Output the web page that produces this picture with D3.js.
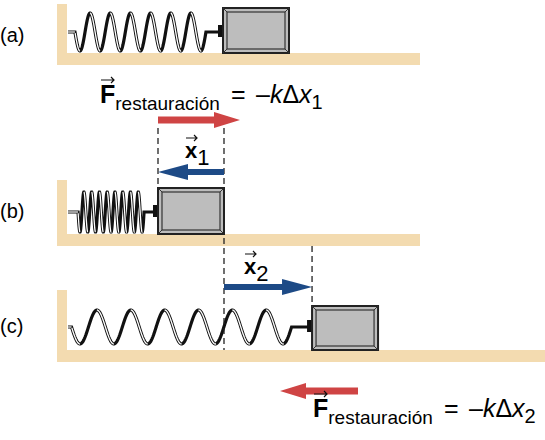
<!DOCTYPE html>
<html><head><meta charset="utf-8">
<script src="https://cdn.jsdelivr.net/npm/d3@7"></script>
<style>body{margin:0;background:#fff}text{font-family:"Liberation Sans",Arial,sans-serif}</style>
</head><body><svg id="c" width="545" height="440"></svg>
<script>
// Data (displacement of block's left edge, arbitrary units relative to equilibrium)
const panelLabels = ["(a)", "(b)", "(c)"];
const displacements = [0, -1, 1.37];
const coilCounts = [6, 8, 6];
const eqLabels = ["1", "2"];

const svg = d3.select("#c");
const X = d3.scaleLinear().domain([0, 1]).range([224, 289]); // 1 unit = 65px
const tan = "#f3dbb0", red = "#cf4444", blue = "#1d4a86";

const rows = [
  {top: 4, floorY: 53, floorEnd: 420, blockTop: 8, cy: 32, amp: 19, labelY: 42},
  {top: 180, floorY: 234, floorEnd: 420, blockTop: 188, cy: 212, amp: 20, labelY: 218},
  {top: 290, floorY: 350, floorEnd: 545, blockTop: 306, cy: 327, amp: 17, labelY: 333}
];
const blockW = 66;

rows.forEach((r, i) => {
  const g = svg.append("g");
  g.append("rect").attr("x", 57).attr("y", r.top).attr("width", 10).attr("height", r.floorY + 12 - r.top).attr("fill", tan);
  g.append("rect").attr("x", 57).attr("y", r.floorY).attr("width", r.floorEnd - 57).attr("height", 12).attr("fill", tan);
  g.append("text").attr("x", 0).attr("y", r.labelY).attr("font-size", 20).text(panelLabels[i]);
  const bx = X(displacements[i]) - 1;
  const x0 = 68, xStart = 80, xEnd = bx - 12;
  const N = coilCounts[i];
  const per = (xEnd - xStart) / (N + 0.5);
  const pts = [[x0, r.cy], [xStart - per * 0.25, r.cy]];
  for (let t = -0.25; t <= N + 0.25 + 1e-6; t += 0.02) {
    pts.push([xStart + t * per, r.cy + r.amp * Math.cos(2 * Math.PI * t)]);
  }
  pts.push([bx - 4, r.cy]);
  const line = d3.line();
  g.append("path").attr("d", line(pts)).attr("fill", "none").attr("stroke", "#111").attr("stroke-width", 3.2);
  for (let k = 0; k <= N; k++) {
    const seg = [];
    for (let t = k - 0.5; t <= k + 0.02; t += 0.02) {
      if (t < -0.25) continue;
      seg.push([xStart + t * per, r.cy + r.amp * Math.cos(2 * Math.PI * t)]);
    }
    if (seg.length > 1) g.append("path").attr("d", line(seg)).attr("fill", "none").attr("stroke", "#fff").attr("stroke-width", 1.3);
  }
  g.append("path").attr("d", line([[x0, r.cy], [xStart - per * 0.25, r.cy]])).attr("stroke", "#fff").attr("stroke-width", 1.2);
  g.append("rect").attr("x", bx - 5).attr("y", r.cy - 7).attr("width", 5).attr("height", 12).attr("fill", "#111");
  const bh = r.floorY - r.blockTop;
  g.append("rect").attr("x", bx).attr("y", r.blockTop).attr("width", blockW).attr("height", bh).attr("fill", "#bdbdbd").attr("stroke", "#222").attr("stroke-width", 2);
  g.append("rect").attr("x", bx + 4).attr("y", r.blockTop + 4).attr("width", blockW - 8).attr("height", bh - 8).attr("fill", "none").attr("stroke", "#333").attr("stroke-width", 1.2);
  g.append("path").attr("d", `M${bx},${r.blockTop}L${bx+4},${r.blockTop+4}M${bx+blockW},${r.blockTop}L${bx+blockW-4},${r.blockTop+4}M${bx},${r.blockTop+bh}L${bx+4},${r.blockTop+bh-4}M${bx+blockW},${r.blockTop+bh}L${bx+blockW-4},${r.blockTop+bh-4}`).attr("stroke", "#333");
});

const dash = (x, y1, y2) => svg.append("line").attr("x1", x).attr("x2", x).attr("y1", y1).attr("y2", y2).attr("stroke", "#222").attr("stroke-width", 1.3).attr("stroke-dasharray", "6,4");
dash(X(displacements[1]) - 1, 128, 233);
dash(X(0), 128, 350);
dash(X(displacements[2]) - 1, 246, 306);

function arrow(xa, xb, y, color, th, hw, hl) {
  const d = xb > xa ? 1 : -1;
  const xh = xb - d * hl;
  svg.append("path").attr("fill", color).attr("d",
    `M${xa},${y - th/2}L${xh},${y - th/2}L${xh},${y - hw/2}L${xb},${y}L${xh},${y + hw/2}L${xh},${y + th/2}L${xa},${y + th/2}Z`);
}
arrow(X(displacements[1]) - 1, X(displacements[1]) - 1 + 82, 120, red, 7, 16, 26);
arrow(X(0), X(displacements[1]) - 1, 172, blue, 6, 16, 30);
arrow(X(0), X(displacements[2]) - 1, 287, blue, 6, 16, 30);
arrow(358, 280, 391, red, 7, 16, 26);

function vecX(x, y, sub) {
  const t = svg.append("text").attr("x", x).attr("y", y).attr("font-size", 22).attr("font-weight", "bold");
  t.append("tspan").text("x");
  t.append("tspan").attr("font-weight", "normal").attr("dy", 7).text(sub);
  svg.append("path").attr("d", `M${x+1},${y-20}L${x+12},${y-20}M${x+9},${y-23}L${x+12},${y-20}L${x+9},${y-17}`).attr("stroke", "#111").attr("stroke-width", 1.2).attr("fill", "none");
}
vecX(185, 158, eqLabels[0]);
vecX(244, 274, eqLabels[1]);

function eq(x, y, sub) {
  const t = svg.append("text").attr("x", x).attr("y", y).attr("font-size", 25);
  t.append("tspan").attr("font-weight", "bold").text("F");
  t.append("tspan").attr("font-size", 19).attr("dy", 7).text("restauración");
  svg.append("text").attr("x", x + 131).attr("y", y).attr("font-size", 25).text("=");
  const r = svg.append("text").attr("x", x + 156).attr("y", y).attr("font-size", 25);
  r.append("tspan").text("–");
  r.append("tspan").attr("font-style", "italic").text("k");
  r.append("tspan").text("Δ");
  r.append("tspan").attr("font-style", "italic").text("x");
  r.append("tspan").attr("font-size", 20).attr("dy", 6).text(sub);
  svg.append("path").attr("d", `M${x+1},${y-23}L${x+14},${y-23}M${x+11},${y-26}L${x+14},${y-23}L${x+11},${y-20}`).attr("stroke", "#111").attr("stroke-width", 1.2).attr("fill", "none");
}
eq(100, 103, eqLabels[0]);
eq(313, 417, eqLabels[1]);
</script></body></html>
